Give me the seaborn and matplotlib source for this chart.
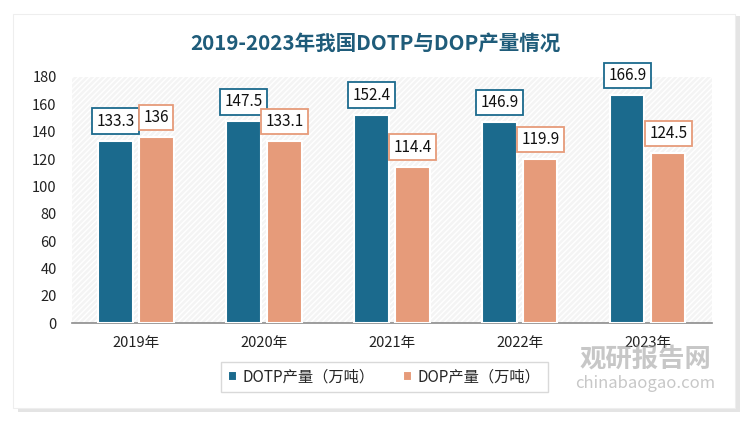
import pandas as pd
import numpy as np
import matplotlib
matplotlib.use('Agg')
import matplotlib.pyplot as plt
import seaborn as sns
from matplotlib.patches import Rectangle

# dados
anos = ['2019年', '2020年', '2021年', '2022年', '2023年']
dotp = [133.3, 147.5, 152.4, 146.9, 166.9]
dop = [136, 133.1, 114.4, 119.9, 124.5]
series = ['DOTP产量（万吨）', 'DOP产量（万吨）']
cores = ['#1b6a8d', '#e69b7a']

df = pd.DataFrame({
    'ano': anos * 2,
    'valor': dotp + dop,
    'serie': [series[0]] * len(anos) + [series[1]] * len(anos),
})

sns.set_theme(style='white')
plt.rcParams['font.family'] = ['Noto Sans CJK SC', 'DejaVu Sans']

fig = plt.figure(figsize=(7.5, 4.23), dpi=100)
fig.patch.set_facecolor('white')

# cartão com sombra (eixo de fundo)
bg = fig.add_axes([0, 0, 1, 1], zorder=-10)
bg.set_axis_off()
bg.set_xlim(0, 1)
bg.set_ylim(0, 1)
bg.add_patch(Rectangle((0.024, 0.026), 0.962, 0.935, facecolor='#e4e4e4', edgecolor='none'))
bg.add_patch(Rectangle((0.018, 0.036), 0.962, 0.93, facecolor='white',
                       edgecolor='#eeeeee', linewidth=0.8))

ax = fig.add_axes([0.096, 0.236, 0.853, 0.582])
ax.set_facecolor('none')
ax.add_patch(Rectangle((0, 0), 1, 1, transform=ax.transAxes, facecolor='#f4f4f4',
                       edgecolor='#ffffff', hatch='//////', linewidth=0, zorder=0))

sns.barplot(data=df, x='ano', y='valor', hue='serie', palette=cores, saturation=1,
            width=0.64, gap=0.16, edgecolor='white', linewidth=1.5,
            ax=ax, zorder=3)

ax.set_ylim(0, 180)
ax.set_xlim(-0.5, 4.5)
ax.set_yticks(np.arange(0, 181, 20))
ax.set_xlabel('')
ax.set_ylabel('')
for s in ['top', 'right', 'left']:
    ax.spines[s].set_visible(False)
ax.spines['bottom'].set_color('#8c8c8c')
ax.spines['bottom'].set_linewidth(1.2)
ax.tick_params(axis='y', labelsize=10.5, colors='#222222', length=0, pad=11)
ax.tick_params(axis='x', labelsize=10.5, colors='#222222', length=0, pad=9)

# rótulos em caixas
for container, cor in zip(ax.containers, cores):
    for p in container:
        v = p.get_height()
        txt = f'{v:g}'
        ax.annotate(txt, (p.get_x() + p.get_width() / 2, v),
                    xytext=(0, 8), textcoords='offset points',
                    ha='center', va='bottom', fontsize=11, color='#111111',
                    bbox=dict(boxstyle='square,pad=0.28', facecolor='white',
                              edgecolor=cor, linewidth=1.3), zorder=5)

ax.legend(loc='upper center', bbox_to_anchor=(0.488, -0.125), ncol=2, frameon=True,
          fontsize=11, handlelength=0.6, handleheight=0.6, handletextpad=0.4,
          columnspacing=1.8, fancybox=False, edgecolor='#d0d0d0', borderpad=0.45)

fig.text(0.5, 0.897, '2019-2023年我国DOTP与DOP产量情况', ha='center', va='center',
         fontsize=14.8, fontweight='bold', color='#1f5c7a')

# marca d'água
fig.text(0.86, 0.149, '观研报告网', ha='center', va='center', fontsize=19,
         fontweight='bold', color='#9a9a9a', alpha=0.55)
fig.text(0.86, 0.093, 'chinabaogao.com', ha='center', va='center', fontsize=12,
         color='#9a9a9a', alpha=0.55)

fig.savefig('out.png', dpi=100)
